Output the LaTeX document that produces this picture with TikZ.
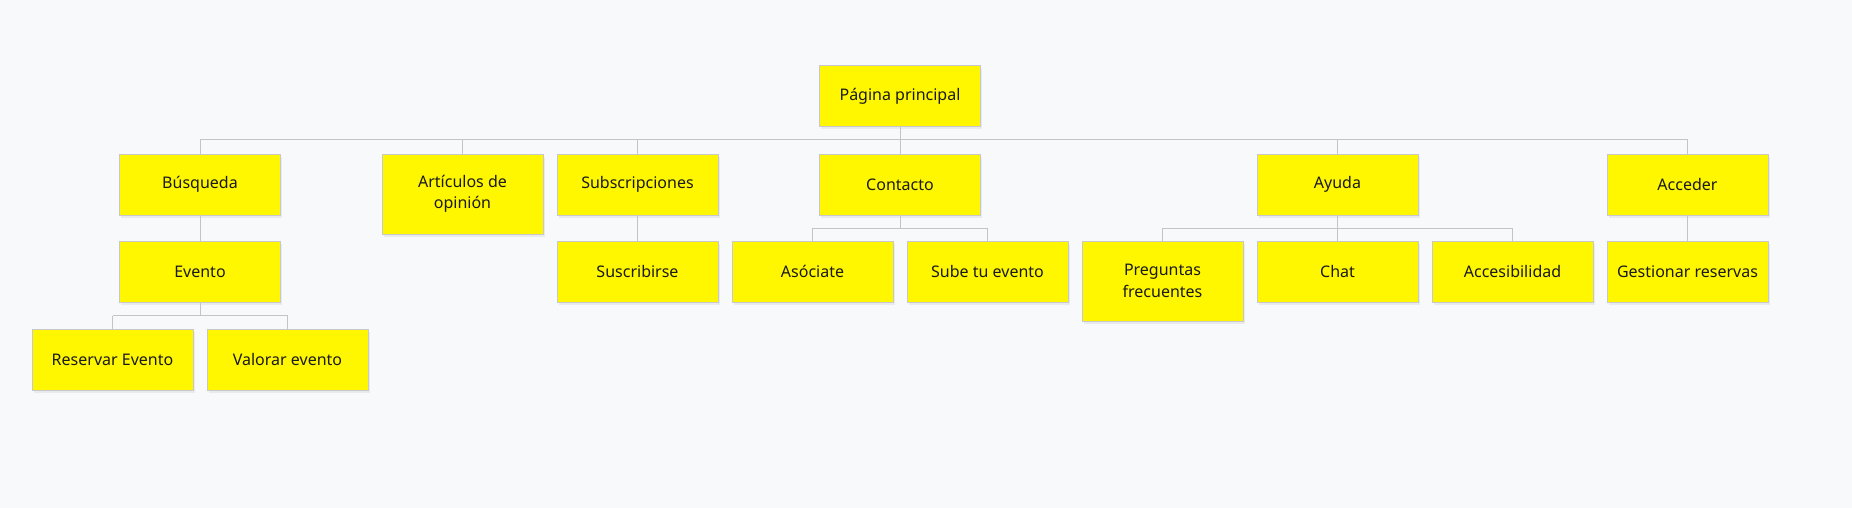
\documentclass[tikz,border=0pt]{standalone}
\usepackage{fontspec}
\setmainfont{Noto Sans}
\usetikzlibrary{shadows}
\definecolor{bg}{HTML}{F8F9FB}
\definecolor{boxfill}{HTML}{FFF700}
\definecolor{boxline}{HTML}{C8C8CC}
\definecolor{linec}{HTML}{C4C4C8}
\definecolor{txt}{HTML}{1A1A1A}
\tikzset{
  card/.style={draw=boxline, line width=1pt, fill=boxfill, anchor=north,
    minimum width=161pt, minimum height=61pt, inner sep=2pt, align=center,
    text=txt, font=\fontsize{16}{21.5}\selectfont,
    drop shadow={opacity=0.12, shadow xshift=1.5pt, shadow yshift=-2.5pt}},
  tallcard/.style={card, minimum height=80pt},
  conn/.style={draw=linec, line width=1pt}
}
\begin{document}
\begin{tikzpicture}[x=1pt,y=-1pt]
\fill[bg] (0,0) rectangle (1852,508);
\useasboundingbox (0,0) rectangle (1852,508);
% row 1
\node[card] (pp) at (900,65.5) {Página principal};
% row 2
\node[card] (busq) at (200,153.5) {Búsqueda};
\node[tallcard] (art) at (462.5,153.5) {Artículos de\\opinión};
\node[card] (subs) at (637.5,153.5) {Subscripciones};
\node[card] (cont) at (900,153.5) {Contacto};
\node[card] (ayu) at (1337.5,153.5) {Ayuda};
\node[card] (acc) at (1687.5,153.5) {Acceder};
% row 3
\node[card] (ev) at (200,240.5) {Evento};
\node[card] (susc) at (637.5,240.5) {Suscribirse};
\node[card] (aso) at (812.5,240.5) {Asóciate};
\node[card] (sube) at (987.5,240.5) {Sube tu evento};
\node[tallcard] (preg) at (1162.5,240.5) {Preguntas\\frecuentes};
\node[card] (chat) at (1337.5,240.5) {Chat};
\node[card] (acce) at (1512.5,240.5) {Accesibilidad};
\node[card] (gest) at (1687.5,240.5) {Gestionar reservas};
% row 4
\node[card] (res) at (112.5,328.5) {Reservar Evento};
\node[card] (val) at (287.5,328.5) {Valorar evento};
% buses
\coordinate (b1) at (900,140);
\coordinate (b2) at (900,228);
\coordinate (b3) at (200,315.5);
% main bus
\draw[conn] (pp.south) -- (pp.south |- b1);
\draw[conn] (busq.north |- b1) -- (acc.north |- b1);
\foreach \n in {busq,art,subs,cont,ayu,acc}
  \draw[conn] (\n.north |- b1) -- (\n.north);
% Busqueda -> Evento
\draw[conn] (busq.south) -- (ev.north);
% Subscripciones -> Suscribirse
\draw[conn] (subs.south) -- (susc.north);
% Contacto bus
\draw[conn] (cont.south) -- (cont.south |- b2);
\draw[conn] (aso.north |- b2) -- (sube.north |- b2);
\foreach \n in {aso,sube}
  \draw[conn] (\n.north |- b2) -- (\n.north);
% Ayuda bus
\draw[conn] (ayu.south) -- (ayu.south |- b2);
\draw[conn] (preg.north |- b2) -- (acce.north |- b2);
\foreach \n in {preg,chat,acce}
  \draw[conn] (\n.north |- b2) -- (\n.north);
% Acceder -> Gestionar
\draw[conn] (acc.south) -- (gest.north);
% Evento bus
\draw[conn] (ev.south) -- (ev.south |- b3);
\draw[conn] (res.north |- b3) -- (val.north |- b3);
\foreach \n in {res,val}
  \draw[conn] (\n.north |- b3) -- (\n.north);
\end{tikzpicture}
\end{document}
